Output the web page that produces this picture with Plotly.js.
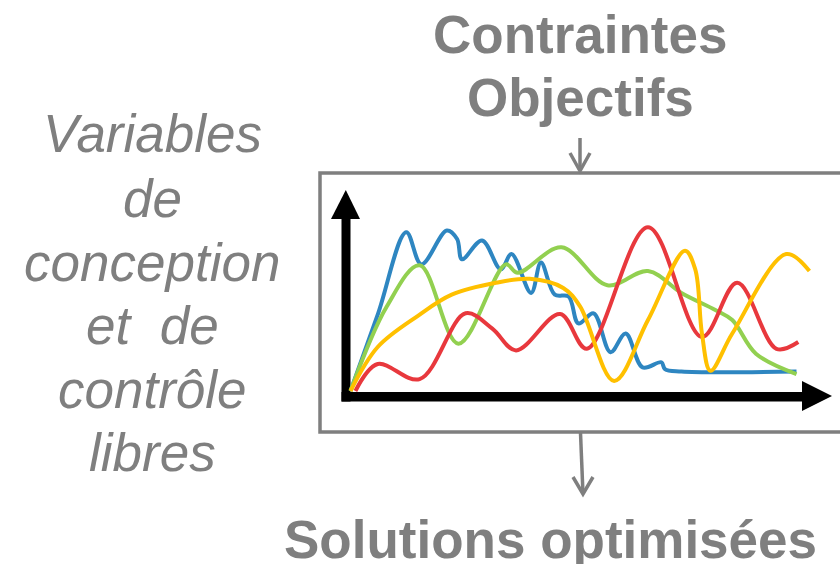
<!DOCTYPE html>
<html>
<head>
<meta charset="utf-8">
<script src="https://cdn.plot.ly/plotly-3.0.1.min.js"></script>
<style>html,body{margin:0;padding:0;background:#fff;}#chart{width:840px;height:564px;}</style>
</head>
<body>
<div id="chart"></div>
<script>
// ---- data (arbitrary units: time 0..100, value 0..100) ----
const blueX   = [0, 6.2, 12.5, 15.9, 21.6, 23.9, 25.0, 29.5, 33.7, 36.1, 40.5, 42.7, 45.8, 48.9, 51.1, 54.5, 58.3, 61.7, 65.5, 69.7, 70.5, 74.2, 100];
const blueY   = [0, 48.4, 98.9, 78.9, 100, 94.7, 82.1, 93.7, 75.8, 85.3, 61.1, 80.0, 60.0, 58.9, 42.1, 48.4, 24.2, 35.8, 14.7, 17.9, 13.7, 12.2, 12.2];
const greenX  = [0, 8.1, 15.5, 24.2, 34.8, 37.5, 47.3, 57.6, 66.7, 74.2, 81.8, 85.6, 90.9, 100];
const greenY  = [0, 52.5, 78.3, 29.5, 78.9, 73.7, 89.5, 65.9, 74.7, 61.1, 50.5, 44.2, 23.2, 10.5];
const redX    = [1.1, 6.1, 15.5, 25.8, 31.8, 37.1, 47.0, 53.0, 66.7, 78.8, 86.7, 95.5, 100.4];
const redY    = [0, 16.8, 7.4, 48.4, 38.9, 25.3, 48.0, 26.3, 102.1, 33.7, 67.4, 26.3, 30.5];
const yellowX = [0, 6.1, 15.2, 22.7, 32.6, 40.2, 47.7, 51.5, 59.1, 66.7, 75.0, 77.3, 78.8, 80.7, 85.6, 97.7, 102.9];
const yellowY = [0, 27.4, 47, 60, 67.4, 69.9, 64.2, 52.6, 6.3, 44.2, 87.4, 75.8, 35.8, 12.6, 35.8, 85.3, 74.7];

const topLabels  = ["Contraintes", "Objectifs"];
const leftLabels = ["Variables", "de", "conception", "et  de", "contrôle", "libres"];
const bottomLabel = "Solutions optimisées";

// ---- layout helpers (pixel -> paper) ----
const W = 840, H = 564;
const X = px => px / W;
const Y = py => 1 - py / H;
function path(cmds) {
  return cmds.map(c => c[0] === 'Z' ? 'Z' : `${c[0]} ${X(c[1]).toFixed(5)},${Y(c[2]).toFixed(5)}`).join(' ');
}

// axis scale: origin at pixel (350.5, 391), 4.46 px per x-unit, 1.605 px per y-unit
const ox = 350.5, oy = 391, sx = 4.46, sy = 1.605;
const xr = [-ox / sx, (W - ox) / sx];
const yr = [(oy - H) / sy, oy / sy];

const gray = '#7f7f7f';
const lw = 4;
const traces = [
  {x: blueX, y: blueY, color: '#2e86c1'},
  {x: greenX, y: greenY, color: '#92d050'},
  {x: redX, y: redY, color: '#e8383d'},
  {x: yellowX, y: yellowY, color: '#ffc000'}
].map(s => ({
  type: 'scatter', mode: 'lines', x: s.x, y: s.y,
  line: {color: s.color, width: lw, shape: 'spline', smoothing: 1},
  hoverinfo: 'skip', showlegend: false
}));

const shapes = [
  {type: 'rect', xref: 'paper', yref: 'paper', x0: X(320), x1: X(852), y0: Y(432), y1: Y(173),
   line: {color: gray, width: 3.5}, fillcolor: 'rgba(0,0,0,0)', layer: 'below'},
  {type: 'path', xref: 'paper', yref: 'paper', layer: 'above',
   path: path([['M',580,138],['L',580,171]]), line: {color: gray, width: 3.5}},
  {type: 'path', xref: 'paper', yref: 'paper', layer: 'above',
   path: path([['M',570,153],['L',580,171],['L',590,153]]), line: {color: gray, width: 3.5}},
  {type: 'path', xref: 'paper', yref: 'paper', layer: 'above',
   path: path([['M',580.5,433],['L',583,494]]), line: {color: gray, width: 3.5}},
  {type: 'path', xref: 'paper', yref: 'paper', layer: 'above',
   path: path([['M',573,477],['L',583,494],['L',593,477]]), line: {color: gray, width: 3.5}},
  {type: 'rect', xref: 'paper', yref: 'paper', layer: 'below', x0: X(341.5), x1: X(350.5), y0: Y(401.5), y1: Y(218),
   fillcolor: '#000', line: {width: 0}},
  {type: 'path', xref: 'paper', yref: 'paper', layer: 'below',
   path: path([['M',331,219],['L',360,219],['L',345.8,190],['Z']]), fillcolor: '#000', line: {width: 0}},
  {type: 'rect', xref: 'paper', yref: 'paper', layer: 'below', x0: X(341.5), x1: X(803), y0: Y(401.5), y1: Y(392),
   fillcolor: '#000', line: {width: 0}},
  {type: 'path', xref: 'paper', yref: 'paper', layer: 'below',
   path: path([['M',802,381],['L',802,411],['L',832,396],['Z']]), fillcolor: '#000', line: {width: 0}}
];

const font = 'Liberation Sans, Arial, sans-serif';
const fs = 53;
const annotations = [];
const topBase = [52, 115];
topLabels.forEach((t, i) => annotations.push({
  xref: 'paper', yref: 'paper', x: X(580), y: Y(topBase[i] - 18), xanchor: 'center', yanchor: 'middle',
  text: '<b>' + t + '</b>', showarrow: false, font: {family: font, size: fs, color: gray}
}));
const leftBase = [152, 216, 280, 343, 407, 470];
leftLabels.forEach((t, i) => annotations.push({
  xref: 'paper', yref: 'paper', x: X(152), y: Y(leftBase[i] - 18), xanchor: 'center', yanchor: 'middle',
  text: '<i>' + t + '</i>', showarrow: false, font: {family: font, size: fs, color: gray}
}));
annotations.push({
  xref: 'paper', yref: 'paper', x: X(550), y: Y(557 - 18), xanchor: 'center', yanchor: 'middle',
  text: '<b>' + bottomLabel + '</b>', showarrow: false, font: {family: font, size: fs, color: gray}
});

const layout = {
  width: W, height: H, autosize: false,
  margin: {l: 0, r: 0, t: 0, b: 0, pad: 0},
  paper_bgcolor: '#fff', plot_bgcolor: '#fff',
  xaxis: {range: xr, visible: false, fixedrange: true},
  yaxis: {range: yr, visible: false, fixedrange: true},
  shapes: shapes, annotations: annotations, showlegend: false
};

Plotly.newPlot('chart', traces, layout, {displayModeBar: false, staticPlot: true});
</script>
</body>
</html>
